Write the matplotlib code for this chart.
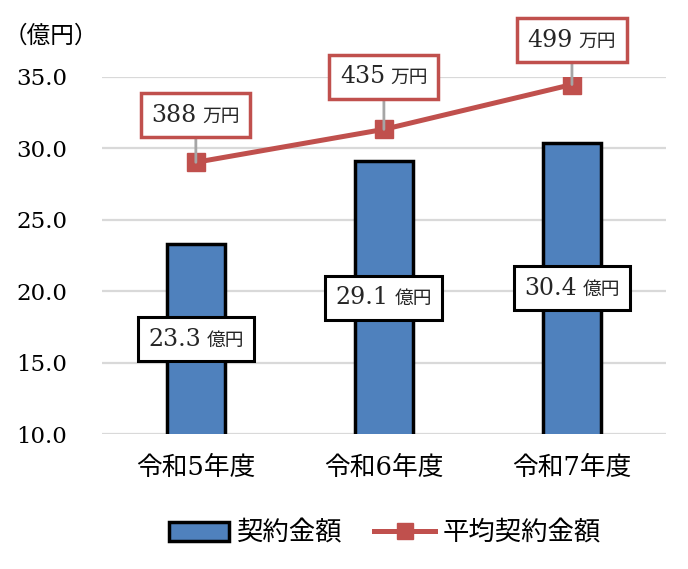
import matplotlib.pyplot as plt
from matplotlib.offsetbox import TextArea, HPacker, AnnotationBbox
from matplotlib.patches import Patch
from matplotlib.lines import Line2D
plt.close('all')

plt.rcParams['font.family'] = ['DejaVu Serif', 'Noto Sans CJK JP']

# data
years = ['令和5年度', '令和6年度', '令和7年度']
amount = [23.3, 29.1, 30.4]          # 億円
avg_amount = [388, 435, 499]         # 万円
avg_offsets = [34, 38, 32]           # label offset above marker (pt)

bar_color = '#4F81BD'
line_color = '#C0504D'
grid_color = '#D9D9D9'
txt_color = '#262626'


def value_box(num, unit):
    return HPacker(children=[
        TextArea(num, textprops=dict(fontsize=17, color=txt_color)),
        TextArea(unit, textprops=dict(fontsize=13.5, color=txt_color))],
        align='baseline', pad=0, sep=4)


fig = plt.figure(figsize=(6.88, 5.69), dpi=100)
ax = fig.add_axes([0.148, 0.237, 0.82, 0.628])

x = list(range(len(years)))
ax.bar(x, amount, width=0.31, bottom=0, color=bar_color, edgecolor='black',
       linewidth=2.5, zorder=3)
ax.set_ylim(10, 35)
ax.set_xlim(-0.5, 2.5)
ax.set_yticks([10, 15, 20, 25, 30, 35])
ax.set_yticklabels([f'{v:.1f}' for v in [10, 15, 20, 25, 30, 35]], fontsize=16.5)
ax.set_xticks(x)
ax.set_xticklabels(years, fontsize=18.5)
ax.tick_params(axis='y', length=0, pad=25)
ax.tick_params(axis='x', length=0, pad=15)
ax.grid(axis='y', color=grid_color, linewidth=1.6, zorder=0)
ax.set_axisbelow(True)
for s in ax.spines.values():
    s.set_visible(False)

# bar value labels
for xi, v in zip(x, amount):
    ab = AnnotationBbox(value_box(f'{v:.1f}', '億円'), (xi, (10 + v) / 2),
                        xycoords='data', frameon=True, pad=0.75,
                        bboxprops=dict(edgecolor='black', linewidth=2.2,
                                       facecolor='white', boxstyle='square,pad=0.75'))
    ab.set_zorder(5)
    ax.add_artist(ab)

# average amount line on hidden secondary axis
ax2 = ax.twinx()
ax2.set_ylim(0, 510)
ax2.set_yticks([])
for s in ax2.spines.values():
    s.set_visible(False)
ax2.plot(x, avg_amount, color=line_color, linewidth=3.6, marker='s',
         markersize=13, zorder=4)

for xi, v, off in zip(x, avg_amount, avg_offsets):
    ab = AnnotationBbox(value_box(str(v), '万円'), (xi, v), xycoords='data',
                        xybox=(0, off), boxcoords='offset points',
                        frameon=True, pad=0.75, annotation_clip=False,
                        bboxprops=dict(edgecolor=line_color, linewidth=2.5,
                                       facecolor='white', boxstyle='square,pad=0.75'),
                        arrowprops=dict(arrowstyle='-', color='#A6A6A6', linewidth=2,
                                        shrinkA=0, shrinkB=0))
    ab.set_zorder(6)
    ax2.add_artist(ab)

fig.text(0.005, 1 - 36 / 569, '（億円）', fontsize=17, va='center', ha='left')

handles = [Patch(facecolor=bar_color, edgecolor='black', linewidth=2.5),
           Line2D([0], [0], color=line_color, linewidth=3.6, marker='s', markersize=11)]
fig.legend(handles, ['契約金額', '平均契約金額'], loc='center',
           bbox_to_anchor=(385 / 688, 1 - 533 / 569), ncol=2, frameon=False,
           fontsize=19, handlelength=2.3, handletextpad=0.3, columnspacing=1.2)

fig.savefig('out.png', dpi=100)
